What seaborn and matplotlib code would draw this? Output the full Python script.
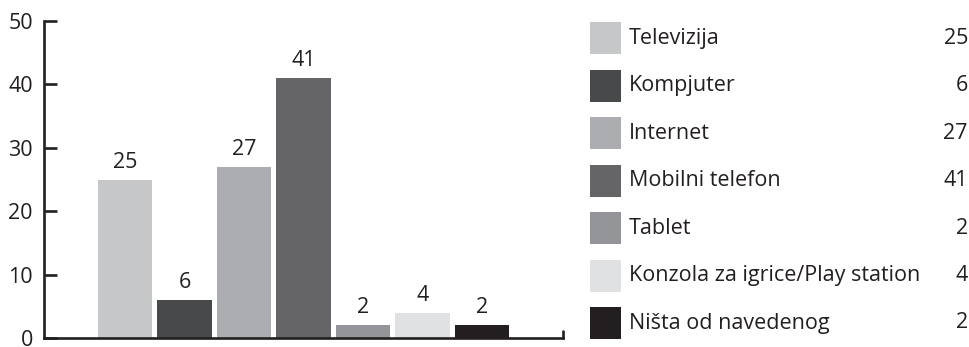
import matplotlib
matplotlib.use("Agg")
import matplotlib.pyplot as plt
from matplotlib.patches import Rectangle
import seaborn as sns

# podaci
categories = ["Televizija", "Kompjuter", "Internet", "Mobilni telefon", "Tablet",
              "Konzola za igrice/Play station", "Ništa od navedenog"]
values = [25, 6, 27, 41, 2, 4, 2]
colors = ["#c6c7c9", "#48494b", "#acadb0", "#656567", "#939598", "#e0e1e2", "#231f20"]
yticks = [0, 10, 20, 30, 40, 50]

INK = "#231f20"

sns.set_style("white")
plt.rcParams["font.family"] = ["Open Sans", "DejaVu Sans"]
plt.rcParams["text.color"] = INK

fig = plt.figure(figsize=(9.7, 3.47), dpi=100)
W, H = 970, 347
ax = fig.add_axes([44 / W, 9 / H, (563 - 44) / W, (338 - 21) / H])

sns.barplot(x=categories, y=values, hue=categories, palette=colors, order=categories,
            hue_order=categories, width=0.91, saturation=1, legend=False, ax=ax,
            linewidth=0)

for c in ax.containers:
    ax.bar_label(c, padding=5, fontsize=15.5, color=INK)

ax.set_xlim(-1.36, 7.36)
ax.set_ylim(0, 50)
ax.set_yticks(yticks)
ax.set_xticks([])
ax.set_xlabel("")
ax.set_ylabel("")
for s in ["top", "right"]:
    ax.spines[s].set_visible(False)
for s in ["left", "bottom"]:
    ax.spines[s].set_linewidth(1.9)
    ax.spines[s].set_color(INK)
ax.tick_params(axis="y", direction="in", length=9, width=1.9, color=INK,
               labelsize=15.5, labelcolor=INK, pad=8, left=True)
ax.axvline(7.36, ymin=0, ymax=0.022, color=INK, lw=1.9, clip_on=False)

# legenda s vrijednostima
lax = fig.add_axes([0, 0, 1, 1])
lax.set_xlim(0, W)
lax.set_ylim(H, 0)
lax.axis("off")
for i, (cat, val, col) in enumerate(zip(categories, values, colors)):
    yc = 38 + i * 47.5
    lax.add_patch(Rectangle((590, yc - 16), 31, 32, color=col, lw=0))
    lax.text(629, yc, cat, va="center", ha="left", fontsize=15.5, color=INK)
    lax.text(968, yc, str(val), va="center", ha="right", fontsize=15.5, color=INK)

fig.savefig("out.png", dpi=100)
